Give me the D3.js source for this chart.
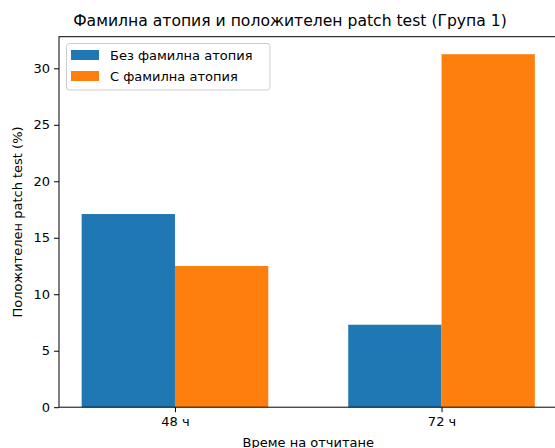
<!DOCTYPE html>
<html><head><meta charset="utf-8">
<script src="https://cdn.jsdelivr.net/npm/d3@7/dist/d3.min.js"></script>
<style>body{margin:0;background:#fff}svg{display:block;font-family:"DejaVu Sans",sans-serif}</style>
</head><body>
<script>
const categories = ["48 ч", "72 ч"];
const seriesNames = ["Без фамилна атопия", "С фамилна атопия"];
const noFamily = [17.1, 7.3];
const withFamily = [12.5, 31.25];
const yTicks = [0, 5, 10, 15, 20, 25, 30];
const colors = ["#1f77b4", "#ff7f0e"];

const W = 555, H = 448;
const m = {left: 59, top: 36.7, right: 557.5, bottom: 407.2};
const svg = d3.select("body").append("svg").attr("width", W).attr("height", H);

const barW = 0.35;
const x = d3.scaleLinear().domain([-0.435, 1.435]).range([m.left, m.right]);
const y = d3.scaleLinear().domain([0, 32.8]).range([m.bottom, m.top]);

const series = [noFamily, withFamily];
series.forEach((vals, si) => {
  svg.append("g").selectAll("rect").data(vals).join("rect")
    .attr("x", (d, i) => si === 0 ? x(i - barW) : x(i))
    .attr("width", x(barW) - x(0))
    .attr("y", d => y(d))
    .attr("height", d => y(0) - y(d))
    .attr("fill", colors[si]);
});

const fs = "13px";
// axes
const yAxis = d3.axisLeft(y).tickValues(yTicks).tickSize(5).tickPadding(4).tickFormat(d3.format("d"));
const gy = svg.append("g").attr("transform", `translate(${m.left},0)`).call(yAxis);
const xAxis = d3.axisBottom(x).tickValues([0, 1]).tickSize(5).tickPadding(5).tickFormat((d, i) => categories[i]);
const gx = svg.append("g").attr("transform", `translate(0,${m.bottom})`).call(xAxis);
[gx, gy].forEach(g => {
  g.select(".domain").remove();
  g.selectAll("text").attr("font-size", fs).attr("fill", "#000").attr("font-family", "DejaVu Sans");
  g.selectAll("line").attr("stroke", "#000").attr("stroke-width", 1);
});
// spines
svg.append("rect").attr("x", m.left).attr("y", m.top).attr("width", m.right - m.left).attr("height", m.bottom - m.top)
  .attr("fill", "none").attr("stroke", "#000").attr("stroke-width", 1);

// labels
svg.append("text").attr("x", 290).attr("y", 26).attr("text-anchor", "middle").attr("font-size", "15.6px")
  .text("Фамилна атопия и положителен patch test (Група 1)");
svg.append("text").attr("x", (m.left + m.right) / 2).attr("y", 446.5).attr("text-anchor", "middle").attr("font-size", fs)
  .text("Време на отчитане");
svg.append("text").attr("transform", `translate(22,${(m.top + m.bottom) / 2}) rotate(-90)`).attr("text-anchor", "middle").attr("font-size", fs)
  .text("Положителен patch test (%)");

// legend
const lg = svg.append("g");
lg.append("rect").attr("x", 66.5).attr("y", 43.5).attr("width", 203.5).attr("height", 46.5).attr("rx", 3)
  .attr("fill", "#fff").attr("fill-opacity", 0.8).attr("stroke", "#ccc").attr("stroke-width", 1);
seriesNames.forEach((n, i) => {
  lg.append("rect").attr("x", 71).attr("y", 50 + i * 21).attr("width", 28).attr("height", 10).attr("fill", colors[i]);
  lg.append("text").attr("x", 110).attr("y", 60 + i * 21).attr("font-size", fs).text(n);
});
</script>
</body></html>
